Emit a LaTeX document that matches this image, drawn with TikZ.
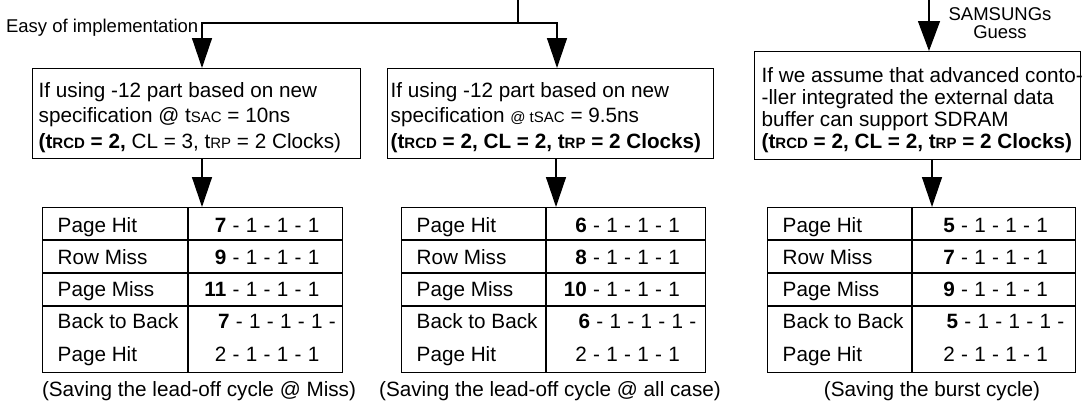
\documentclass[tikz,border=0pt]{standalone}
\usepackage{fontspec}
\setmainfont{Liberation Sans}
\usetikzlibrary{arrows.meta,calc}

% reduced capitals used in timing symbols (tRCD, tRP, tSAC)
\newcommand\smc[1]{{\fontsize{15}{15}\selectfont #1}}
% spaced dash between clock counts
\newcommand\dsh{\hspace{6.3pt}-\hspace{6.3pt}}
% burst pattern with bold lead-off count
\newcommand\lead[1]{\textbf{#1}\dsh 1\dsh 1\dsh 1}

% latency table: #1 name, #2 left x, #3 divider x, #4 right x,
% #5..#8 lead-off clocks for page hit, row miss, page miss, back-to-back
\newcommand\restable[8]{%
  \node[frame, minimum width={#4pt-#2pt}, minimum height=165pt] (#1) at (#2,207) {};
  \draw (#1.north -| #3,0) -- (#1.south -| #3,0);
  \foreach \yy in {240,273,306} \draw (#1.west |- 0,\yy) -- (#1.east |- 0,\yy);
  \node[txt, anchor=base west] (#1-l1) at (#2+15,232) {Page Hit};
  \node[txt, anchor=base west] (#1-l2) at (#2+15,264) {Row Miss};
  \node[txt, anchor=base west] (#1-l3) at (#2+15,296) {Page Miss};
  \node[txt, anchor=base west] (#1-l4) at (#2+15,328) {Back to Back};
  \node[txt, anchor=base west] (#1-l5) at (#2+15,361) {Page Hit};
  \node[txt, anchor=base east] (#1-r1) at ({(#3+#4)/2+55},232) {\lead{#5}};
  \node[txt, anchor=base east] (#1-r2) at ({(#3+#4)/2+55},264) {\lead{#6}};
  \node[txt, anchor=base east] (#1-r3) at ({(#3+#4)/2+55},296) {\lead{#7}};
  \node[txt, anchor=base] (#1-r4) at ({(#3+#4)/2+12},328) {\lead{#8}\dsh};
  \node[txt, anchor=base east] (#1-r5) at ({(#3+#4)/2+55},361) {2\dsh 1\dsh 1\dsh 1};
}

\begin{document}
\begin{tikzpicture}[x=1pt, y=-1pt, line width=1.4pt,
  txt/.style={inner sep=0pt, font=\fontsize{20.7}{25.5}\selectfont},
  note/.style={inner sep=0pt, font=\fontsize{18.5}{17.5}\selectfont},
  frame/.style={draw, rectangle, inner sep=0pt, anchor=north west},
  arr/.style={-{Triangle[length=30pt, width=20pt]}}]

\useasboundingbox (0,0) rectangle (1085,402);

% condition boxes
\node[frame, minimum width=328pt, minimum height=90pt] (b1) at (32,68) {};
\node[frame, minimum width=326pt, minimum height=90pt] (b2) at (387,68) {};
\node[frame, minimum width=326pt, minimum height=108pt] (b3) at (754,51) {};

% box texts, placed by the baseline of their last line
\node[txt, anchor=base west, align=left] (t1) at (38,148)
  {If using -12 part based on new\\specification @ t\smc{SAC} = 10ns\\\textbf{(t\smc{RCD} = 2,} CL = 3, t\smc{RP} = 2 Clocks)};
\node[txt, anchor=base west, align=left] (t2) at (390,148)
  {If using -12 part based on new\\specification {\fontsize{15}{15}\selectfont @ tSAC} = 9.5ns\\\textbf{(t\smc{RCD} = 2, CL = 2, t\smc{RP} = 2 Clocks)}};
\node[txt, font=\fontsize{20.7}{22}\selectfont, anchor=base west, align=left] (t3) at (761,148)
  {If we assume that advanced conto-\\-ller integrated the external data\\buffer can support SDRAM\\\textbf{(t\smc{RCD} = 2, CL = 2, t\smc{RP} = 2 Clocks)}};

% incoming flows
\coordinate (src) at (518,0);
\coordinate (fork) at (518,23);
\coordinate (c1) at (202,23);
\coordinate (c2) at (557,23);
\coordinate (src3) at (929,0);
\draw (src) -- (fork);
\draw[arr] (fork) -- (c1) -- (c1 |- b1.north);
\draw[arr] (fork) -- (c2) -- (c2 |- b2.north);
\draw[arr, -{Triangle[length=30pt, width=22pt]}] (src3) -- (src3 |- b3.north);

\node[note, anchor=base east] (easy) at (199,32) {Easy of implementation};
\node[note, anchor=base, align=center] (guess) at (1000,38) {SAMSUNGs\\Guess};

% result tables
\restable{tab1}{42}{188}{342}{7}{9}{11}{7}
\restable{tab2}{401}{546}{705}{6}{8}{10}{6}
\restable{tab3}{767}{912}{1075}{5}{7}{9}{5}

\coordinate (d1) at (202,0);
\coordinate (d2) at (556,0);
\coordinate (d3) at (932,0);
\draw[arr] (d1 |- b1.south) -- (d1 |- tab1.north);
\draw[arr] (d2 |- b2.south) -- (d2 |- tab2.north);
\draw[arr] (d3 |- b3.south) -- (d3 |- tab3.north);

% captions
\node[txt, anchor=base] (cap1) at (199,396) {(Saving the lead-off cycle @ Miss)};
\node[txt, anchor=base] (cap2) at (550,396) {(Saving the lead-off cycle @ all case)};
\node[txt, anchor=base] (cap3) at (932,396) {(Saving the burst cycle)};
\end{tikzpicture}
\end{document}
